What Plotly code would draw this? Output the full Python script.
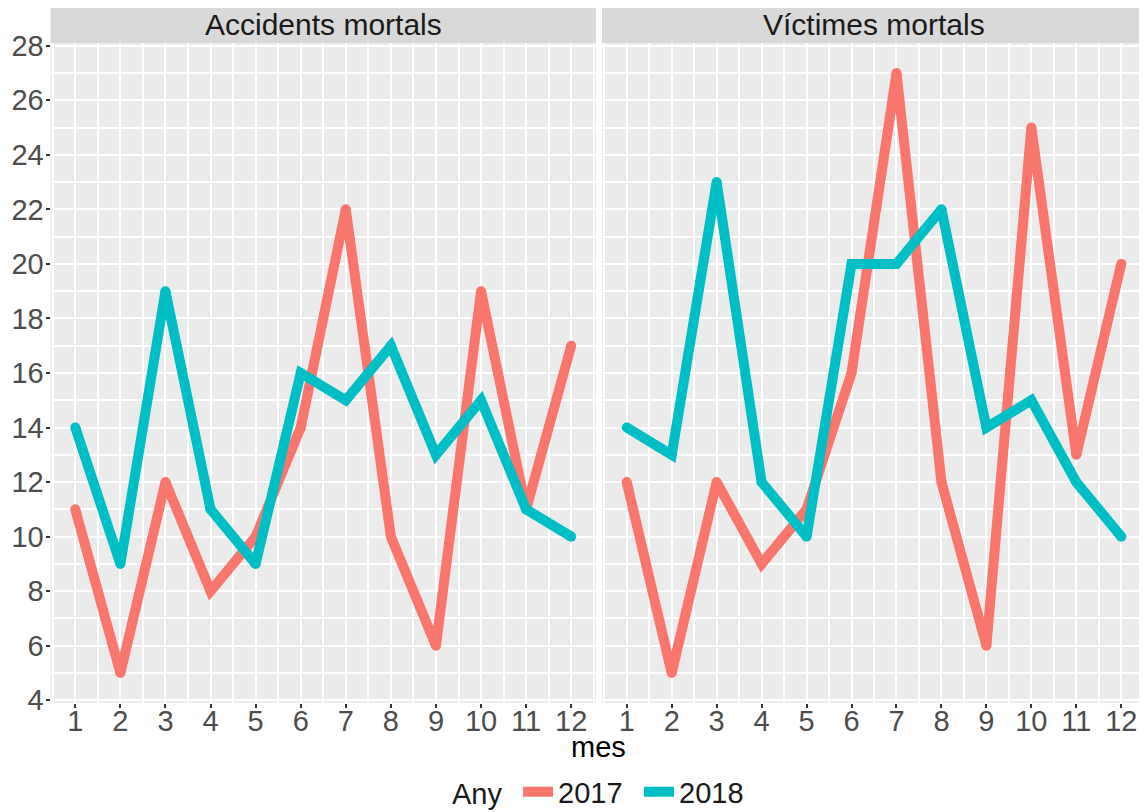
import plotly.graph_objects as go

mes = [1, 2, 3, 4, 5, 6, 7, 8, 9, 10, 11, 12]
panels = ["Accidents mortals", "Víctimes mortals"]
acc_2017 = [11, 5, 12, 8, 10, 14, 22, 10, 6, 19, 11, 17]
acc_2018 = [14, 9, 19, 11, 9, 16, 15, 17, 13, 15, 11, 10]
vic_2017 = [12, 5, 12, 9, 11, 16, 27, 12, 6, 25, 13, 20]
vic_2018 = [14, 13, 23, 12, 10, 20, 20, 22, 14, 15, 12, 10]
y_ticks = [4, 6, 8, 10, 12, 14, 16, 18, 20, 22, 24, 26, 28]

C17 = "#F8766D"
C18 = "#00BFC4"
W, H = 1147, 812
OFF = 8  # page body margin
FONT = "Liberation Sans, Arial, sans-serif"
LW = 10

fig = go.Figure()
series = [
    (acc_2017, "2017", C17, "x", "y", True),
    (acc_2018, "2018", C18, "x", "y", True),
    (vic_2017, "2017", C17, "x2", "y2", False),
    (vic_2018, "2018", C18, "x2", "y2", False),
]
for vals, name, col, xa, ya, show in series:
    fig.add_trace(go.Scatter(x=mes, y=vals, mode="lines", name=name,
                             line=dict(color=col, width=LW),
                             xaxis=xa, yaxis=ya, legendgroup=name, showlegend=show))
    # round joins / caps like ggplot
    fig.add_trace(go.Scatter(x=mes, y=vals, mode="markers", name=name,
                             marker=dict(color=col, size=LW, line=dict(width=0)),
                             xaxis=xa, yaxis=ya, legendgroup=name, showlegend=False,
                             hoverinfo="skip"))

def px(x):
    return (x - OFF) / W

def py(y):
    return (H - (y - OFF)) / H

ydom = [py(703), py(43)]
xd1 = [px(50.5), px(596)]
xd2 = [px(602), px(1146)]

xcommon = dict(range=[0.45, 12.55], tickmode="array", tickvals=mes, ticktext=[str(m) for m in mes],
               showgrid=True, gridcolor="white", gridwidth=2,
               minor=dict(tickmode="array", tickvals=[0.5 + i for i in range(13)], showgrid=True,
                          gridcolor="white", gridwidth=1.5, ticks=""),
               ticks="outside", ticklen=4, tickcolor="#333333", tickwidth=1.5,
               tickfont=dict(size=29, color="#4d4d4d", family=FONT), ticklabelstandoff=-12,
               zeroline=False, showline=False, fixedrange=True, automargin=False)
ycommon = dict(range=[3.9, 28.1], tickmode="array", tickvals=y_ticks, ticktext=[str(t) for t in y_ticks],
               showgrid=True, gridcolor="white", gridwidth=2,
               minor=dict(tickmode="array", tickvals=list(range(5, 28, 2)), showgrid=True,
                          gridcolor="white", gridwidth=1.5, ticks=""),
               zeroline=False, showline=False, fixedrange=True, automargin=False)

fig.update_layout(
    width=W, height=H,
    margin=dict(l=0, r=0, t=0, b=0),
    paper_bgcolor="white", plot_bgcolor="#ebebeb",
    font=dict(family=FONT, color="#1a1a1a"),
    xaxis=dict(domain=xd1, anchor="y", **xcommon),
    xaxis2=dict(domain=xd2, anchor="y2", **xcommon),
    yaxis=dict(domain=ydom, anchor="x", ticks="outside", ticklen=4, tickcolor="#333333", tickwidth=1.5,
               tickfont=dict(size=29, color="#4d4d4d", family=FONT), ticklabelstandoff=-4, **ycommon),
    yaxis2=dict(domain=ydom, anchor="x2", ticks="", showticklabels=False, **ycommon),
    showlegend=True,
    legend=dict(orientation="h", x=px(450), xanchor="left", y=py(792), yanchor="middle",
                title=dict(text="Any ", font=dict(size=29, color="#1a1a1a")),
                font=dict(size=29, color="#1a1a1a", family=FONT),
                itemwidth=30, entrywidth=76, entrywidthmode="pixels", bgcolor="rgba(0,0,0,0)"),
)

shapes = []
annotations = []
for i, (name, xd) in enumerate(zip(panels, [xd1, xd2])):
    shapes.append(dict(type="rect", xref="paper", yref="paper", x0=xd[0], x1=xd[1], y0=py(43), y1=py(6),
                       fillcolor="#d9d9d9", line=dict(width=0), layer="below"))
    annotations.append(dict(xref="paper", yref="paper", x=(xd[0] + xd[1]) / 2, y=py(24.5), text=name,
                            showarrow=False, xanchor="center", yanchor="middle",
                            font=dict(size=30, color="#1a1a1a", family=FONT)))
annotations.append(dict(xref="paper", yref="paper", x=px(598), y=py(747), text="mes", showarrow=False,
                        xanchor="center", yanchor="middle",
                        font=dict(size=29, color="#000000", family=FONT)))
fig.update_layout(shapes=shapes, annotations=annotations)

fig.write_html("out.html")
